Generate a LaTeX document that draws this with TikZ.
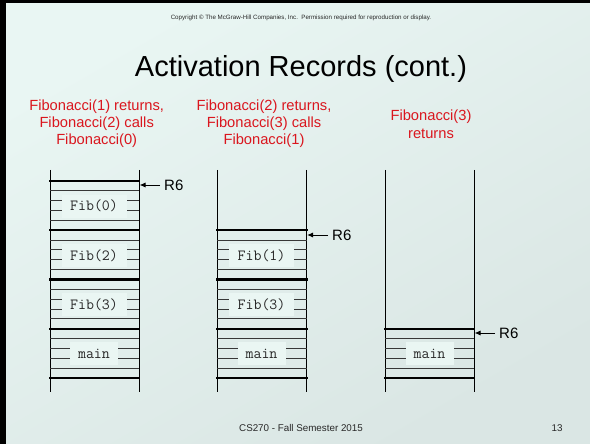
\documentclass[tikz,border=0pt]{standalone}
\usepackage{fontspec}
\setmainfont{Liberation Sans}
\usetikzlibrary{arrows.meta}

\definecolor{labelred}{RGB}{218,22,30}
\definecolor{boxfill}{RGB}{234,246,243}
\definecolor{bgUL}{RGB}{233,246,243}
\definecolor{bgLR}{RGB}{218,230,228}
\definecolor{rowline}{RGB}{55,55,55}
\definecolor{inkgray}{RGB}{40,40,40}

\tikzset{
  rowrule/.style={draw=rowline, line width=1pt},
  framerule/.style={draw=black, line width=2.2pt},
  stackwall/.style={draw=black, line width=1pt},
  recbox/.style={fill=boxfill, inner sep=0pt, minimum height=23pt,
    font=\fontsize{15.5}{15.5}\selectfont\ttfamily, text=inkgray},
  caption/.style={text=labelred, align=center,
    font=\fontsize{14.7}{17.5}\selectfont, anchor=base},
  sptr/.style={anchor=west, inner sep=0pt, font=\fontsize{15}{15}\selectfont},
  sptrarrow/.style={-{Latex[length=6pt,width=5pt]}, line width=1pt, shorten <=4pt}
}

\begin{document}
\begin{tikzpicture}[x=1pt, y=-1pt]
\useasboundingbox (0,0) rectangle (590,444);

% slide background and frame edges
\shade[top color=bgUL, bottom color=bgLR, shading angle=30]
  (0,0) rectangle (590,444);
\fill[black] (0,0) rectangle (590,3.5);
\fill[black] (0,0) rectangle (6,444);

% header
\node[font=\fontsize{6.2}{7}\selectfont, text=inkgray, anchor=base] (copy) at (301,20)
  {Copyright © The McGraw-Hill Companies, Inc.\ \ Permission required for reproduction or display.};
\node[font=\fontsize{29}{29}\selectfont, anchor=base] (title) at (301,77)
  {Activation Records (cont.)};

% column captions (anchored at the baseline of their last line)
\node[caption] (cap1) at (96.7,145) {Fibonacci(1) returns,\\Fibonacci(2) calls\\Fibonacci(0)};
\node[caption] (cap2) at (264,145) {Fibonacci(2) returns,\\Fibonacci(3) calls\\Fibonacci(1)};
\node[caption] (cap3) at (431,138.5) {Fibonacci(3)\\returns};

% ---- stack 1 ----
\draw[stackwall] (50,170) -- (50,392);
\draw[stackwall] (139,170) -- (139,392);
\foreach \t in {181,230.25,279.5,328.75}{
  \draw[framerule] (49,\t) -- (140,\t);
  \foreach \k in {1,...,4} \draw[rowrule] (50,\t+\k*9.85) -- (139,\t+\k*9.85);
}
\draw[framerule] (49,378) -- (140,378);
\node[recbox, minimum width=65pt] (s1f0) at (94,206.2) {Fib(0)};
\node[recbox, minimum width=65pt] (s1f2) at (94,255.4) {Fib(2)};
\node[recbox, minimum width=65pt] (s1f3) at (94,304.6) {Fib(3)};
\node[recbox, minimum width=48pt] (s1m)  at (94,353.9) {main};
\node[sptr] (r6a) at (164,185) {R6};
\coordinate (s1ptr) at (139.5,185);
\draw[sptrarrow] (r6a.west) -- (s1ptr);

% ---- stack 2 ----
\draw[stackwall] (217,170) -- (217,392);
\draw[stackwall] (306.5,170) -- (306.5,392);
\foreach \t in {230.25,279.5,328.75}{
  \draw[framerule] (216,\t) -- (307.5,\t);
  \foreach \k in {1,...,4} \draw[rowrule] (217,\t+\k*9.85) -- (306.5,\t+\k*9.85);
}
\draw[framerule] (216,378) -- (307.5,378);
\node[recbox, minimum width=65pt] (s2f1) at (261.5,255.4) {Fib(1)};
\node[recbox, minimum width=65pt] (s2f3) at (261.5,304.6) {Fib(3)};
\node[recbox, minimum width=48pt] (s2m)  at (261.5,353.9) {main};
\node[sptr] (r6b) at (332,235) {R6};
\coordinate (s2ptr) at (307,235);
\draw[sptrarrow] (r6b.west) -- (s2ptr);

% ---- stack 3 ----
\draw[stackwall] (385,170) -- (385,392);
\draw[stackwall] (474,170) -- (474,392);
\foreach \t in {328.75}{
  \draw[framerule] (384,\t) -- (475,\t);
  \foreach \k in {1,...,4} \draw[rowrule] (385,\t+\k*9.85) -- (474,\t+\k*9.85);
}
\draw[framerule] (384,378) -- (475,378);
\node[recbox, minimum width=48pt] (s3m) at (429.5,353.9) {main};
\node[sptr] (r6c) at (499,333) {R6};
\coordinate (s3ptr) at (474.5,333);
\draw[sptrarrow] (r6c.west) -- (s3ptr);

% footer
\node[font=\fontsize{9.8}{10}\selectfont, text=inkgray, anchor=base] (foot) at (301,431.5)
  {CS270 - Fall Semester 2015};
\node[font=\fontsize{9.8}{10}\selectfont, text=inkgray, anchor=base] (pnum) at (557,431.5) {13};
\end{tikzpicture}
\end{document}
